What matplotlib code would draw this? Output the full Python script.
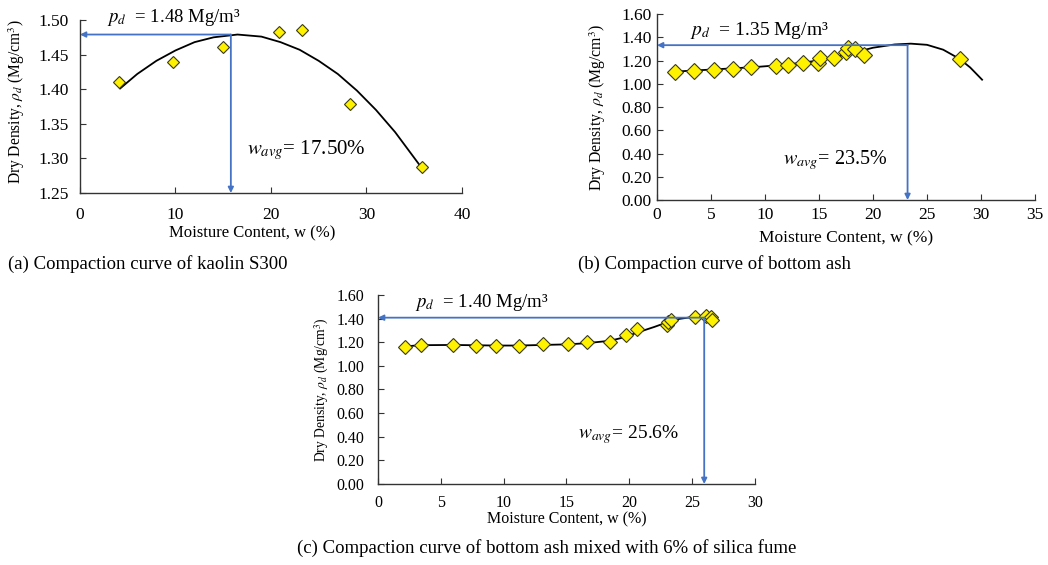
import numpy as np
import matplotlib
matplotlib.use("Agg")
import matplotlib.pyplot as plt

plt.rcParams['font.family'] = ['Liberation Serif', 'DejaVu Serif']
plt.rcParams['mathtext.fontset'] = 'stix'

# === (a) kaolin S300 ===
w_a = [4.1, 9.7, 15.0, 20.8, 23.2, 28.3, 35.8]
rho_a = [1.410, 1.440, 1.461, 1.483, 1.485, 1.378, 1.288]
w_a_fit = [4.2, 6.0, 8.0, 10.0, 12.0, 14.0, 16.5, 19.0, 21.0, 23.0, 25.0, 27.0, 29.0, 31.0, 33.0, 35.8]
rho_a_fit = [1.401, 1.422, 1.441, 1.456, 1.468, 1.475, 1.479, 1.476, 1.468, 1.457, 1.441, 1.422, 1.398, 1.370, 1.338, 1.286]
w_a_opt, rho_a_opt = 15.8, 1.479

# === (b) bottom ash ===
w_b = [1.7, 3.4, 5.3, 7.0, 8.7, 11.0, 12.1, 13.5, 14.9, 15.1, 16.4, 17.5, 17.7, 18.3, 19.2, 28.1]
rho_b = [1.10, 1.11, 1.12, 1.13, 1.14, 1.15, 1.16, 1.175, 1.18, 1.22, 1.22, 1.27, 1.31, 1.30, 1.245, 1.21]
w_b_fit = [1.7, 5.0, 9.0, 12.0, 15.0, 18.0, 20.0, 22.0, 23.5, 25.0, 26.5, 28.0, 29.0, 30.1]
rho_b_fit = [1.105, 1.122, 1.143, 1.165, 1.200, 1.262, 1.310, 1.338, 1.345, 1.335, 1.293, 1.215, 1.140, 1.035]
w_b_opt, rho_b_opt = 23.2, 1.332

# === (c) bottom ash + 6% silica fume ===
w_c = [2.15, 3.4, 6.0, 7.8, 9.4, 11.2, 13.1, 15.1, 16.6, 18.5, 19.7, 20.6, 23.0, 23.1, 23.3, 25.2, 26.1, 26.5, 26.6]
rho_c = [1.163, 1.177, 1.177, 1.166, 1.168, 1.166, 1.185, 1.182, 1.199, 1.205, 1.26, 1.31, 1.35, 1.37, 1.39, 1.41, 1.42, 1.41, 1.39]
w_c_fit = [2.15, 3.4, 6.0, 9.4, 11.2, 13.1, 15.1, 16.6, 18.5, 19.7, 20.6, 22.0, 23.1, 24.0, 25.2, 26.1, 26.6]
rho_c_fit = [1.165, 1.175, 1.177, 1.172, 1.172, 1.177, 1.182, 1.192, 1.213, 1.245, 1.281, 1.330, 1.372, 1.398, 1.416, 1.420, 1.390]
w_c_opt, rho_c_opt = 25.96, 1.408

ARROW = '#4472C4'


def panel(rect, w, rho, wf, rf, w_opt, r_opt, xlim, xticks, ylim, yticks,
          ms, fs, lfs, yfs, xpad, ypad, xlab_pos, ylab_pos,
          rho_txt, rho_pos, rfs, w_txt, w_pos, wsize):
    ax = fig.add_axes(rect)
    ax.plot(wf, rf, color='black', lw=1.3, zorder=2)
    ax.plot(w, rho, ls='none', marker='D', ms=ms, mfc='#FFF200',
            mec='#3a3a1a', mew=0.8, zorder=3)
    ax.annotate('', xy=(xlim[0], r_opt), xytext=(w_opt, r_opt),
                arrowprops=dict(arrowstyle='-|>', color=ARROW, lw=1.3,
                                mutation_scale=8, shrinkA=0, shrinkB=0))
    ax.annotate('', xy=(w_opt, ylim[0]), xytext=(w_opt, r_opt),
                arrowprops=dict(arrowstyle='-|>', color=ARROW, lw=1.3,
                                mutation_scale=8, shrinkA=0, shrinkB=0))
    ax.set_xlim(xlim)
    ax.set_ylim(ylim)
    ax.set_xticks(xticks)
    ax.set_yticks(yticks)
    ax.set_yticklabels([f'{v:.2f}' for v in yticks])
    for s in ['top', 'right']:
        ax.spines[s].set_visible(False)
    for s in ['left', 'bottom']:
        ax.spines[s].set_color('#333333')
        ax.spines[s].set_linewidth(1.0)
    ax.tick_params(axis='x', direction='in', length=4, labelsize=fs, pad=xpad, color='#333333')
    ax.tick_params(axis='y', direction='in', length=4, labelsize=fs, pad=ypad, color='#333333')
    ax.set_xlabel('Moisture Content, w (%)', fontsize=lfs)
    ax.xaxis.set_label_coords(*xlab_pos)
    ax.xaxis.label.set_va('center')
    ax.set_ylabel(r'Dry Density, $\rho_d$ (Mg/cm$^3$)', fontsize=yfs)
    ax.yaxis.set_label_coords(*ylab_pos)
    ax.yaxis.label.set_va('center')
    ax.text(rho_pos[0], rho_pos[1], rho_txt, transform=ax.transAxes,
            fontsize=rfs, va='center', ha='left', clip_on=False)
    ax.text(w_pos[0], w_pos[1], w_txt, transform=ax.transAxes,
            fontsize=wsize, va='center', ha='left', clip_on=False)
    return ax


fig = plt.figure(figsize=(10.48, 5.65), dpi=100)

panel([0.0763, 0.6584, 0.3645, 0.3062], w_a, rho_a, w_a_fit, rho_a_fit, w_a_opt, rho_a_opt,
      (0, 40), [0, 10, 20, 30, 40], (1.25, 1.50), [1.25, 1.30, 1.35, 1.40, 1.45, 1.50],
      6, 12.5, 12, 11.2, 10, 8, (0.45, -0.231), (-0.165, 0.53),
      r'$p_d$  = 1.48 Mg/m³', (0.071, 1.012), 13.5, r'$w_{avg}$= 17.50%', (0.437, 0.249), 15)

panel([0.6269, 0.6460, 0.3607, 0.3292], w_b, rho_b, w_b_fit, rho_b_fit, w_b_opt, rho_b_opt,
      (0, 35), [0, 5, 10, 15, 20, 25, 30, 35], (0, 1.6),
      [0.0, 0.2, 0.4, 0.6, 0.8, 1.0, 1.2, 1.4, 1.6],
      8.5, 12.5, 12.5, 11.3, 5, 4, (0.5, -0.204), (-0.156, 0.5),
      r'$p_d$  = 1.35 Mg/m³', (0.087, 0.914), 14, r'$w_{avg}$= 23.5%', (0.333, 0.215), 14.5)

panel([0.3607, 0.1434, 0.3597, 0.3345], w_c, rho_c, w_c_fit, rho_c_fit, w_c_opt, rho_c_opt,
      (0, 30), [0, 5, 10, 15, 20, 25, 30], (0, 1.6),
      [0.0, 0.2, 0.4, 0.6, 0.8, 1.0, 1.2, 1.4, 1.6],
      7, 11.5, 11.5, 9.8, 8, 10, (0.5, -0.185), (-0.149, 0.497),
      r'$p_d$  = 1.40 Mg/m³', (0.098, 0.958), 13.5, r'$w_{avg}$= 25.6%', (0.53, 0.26), 14)

fig.text(8 / 1048, 1 - 264 / 565, '(a) Compaction curve of kaolin S300', fontsize=13.5, va='center')
fig.text(578 / 1048, 1 - 264 / 565, '(b) Compaction curve of bottom ash', fontsize=13.5, va='center')
fig.text(297 / 1048, 1 - 548 / 565, '(c) Compaction curve of bottom ash mixed with 6% of silica fume',
         fontsize=13.5, va='center')

fig.savefig('out.png', dpi=100)
